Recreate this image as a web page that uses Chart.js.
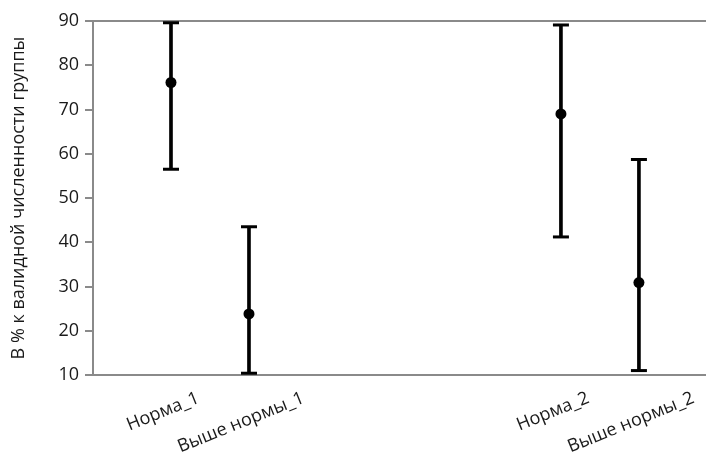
<!DOCTYPE html>
<html>
<head>
<meta charset="utf-8">
<script src="https://cdn.jsdelivr.net/npm/chart.js@4"></script>
<style>
    html, body { margin: 0; padding: 0; background: #fff; }
    #wrap { width: 706px; height: 458px; }
</style>
</head>
<body>
<div id="wrap"><canvas id="chart"></canvas></div>
<script>
// Groups and their positions on the x axis (gap between the two pairs)
const categories = ["Норма_1", "Выше нормы_1", "Норма_2", "Выше нормы_2"];
const positions = [1, 2, 6, 7];

// Mean and interval bounds, % of the valid group size
const means = [76.1, 23.8, 69.0, 30.9];
const lower = [56.5, 10.4, 41.2, 11.0];
const upper = [89.6, 43.5, 89.1, 58.7];

const yTicks = [10, 20, 30, 40, 50, 60, 70, 80, 90];

const axisGray = '#8a8a8a';
const textColor = '#1a1a1a';
const fontFamily = '"Open Sans", "Noto Sans", sans-serif';

// Draws the rotated category labels centred under each position
const categoryLabels = {
    id: 'categoryLabels',
    afterDraw(chart) {
        const ctx = chart.ctx;
        const xs = chart.scales.x;
        const angle = -22 * Math.PI / 180;
        ctx.save();
        ctx.font = '18px ' + fontFamily;
        ctx.fillStyle = textColor;
        ctx.textAlign = 'center';
        ctx.textBaseline = 'middle';
        categories.forEach((label, i) => {
            const w = ctx.measureText(label).width;
            const cx = xs.getPixelForValue(positions[i]) - 8;
            const cy = 389 + (w / 2) * Math.sin(-angle) + 9 * Math.cos(angle);
            ctx.save();
            ctx.translate(cx, cy);
            ctx.rotate(angle);
            ctx.fillText(label, 0, 0);
            ctx.restore();
        });
        ctx.restore();
    }
};

const ranges = positions.map((x, i) => ({ x: x, y: [lower[i], upper[i]] }));
const caps = [];
positions.forEach((x, i) => {
    caps.push({ x: x, y: lower[i] });
    caps.push({ x: x, y: upper[i] });
});
const centers = positions.map((x, i) => ({ x: x, y: means[i] }));

new Chart(document.getElementById('chart'), {
    type: 'bar',
    data: {
        datasets: [
            {
                type: 'scatter',
                data: centers,
                pointStyle: 'circle',
                pointRadius: 5.5,
                backgroundColor: '#000',
                borderColor: '#000',
                borderWidth: 0
            },
            {
                type: 'scatter',
                data: caps,
                pointStyle: 'line',
                pointRadius: 8,
                borderColor: '#000',
                borderWidth: 3
            },
            {
                type: 'bar',
                data: ranges,
                barThickness: 3,
                backgroundColor: '#000',
                borderWidth: 0
            }
        ]
    },
    options: {
        responsive: true,
        maintainAspectRatio: false,
        animation: false,
        layout: { autoPadding: false, padding: { top: 21, right: 0, left: 0, bottom: 0 } },
        plugins: {
            legend: { display: false },
            tooltip: { enabled: false }
        },
        scales: {
            x: {
                type: 'linear',
                offset: false,
                min: 0,
                max: 7.86,
                ticks: { display: false },
                grid: { display: false },
                border: { display: true, color: axisGray, width: 2 },
                afterFit(scale) { scale.height = 83; }
            },
            y: {
                min: 10,
                max: 90,
                afterBuildTicks(scale) {
                    scale.ticks = yTicks.map(v => ({ value: v }));
                },
                ticks: {
                    color: textColor,
                    padding: 6,
                    font: { family: fontFamily, size: 18 }
                },
                grid: {
                    lineWidth: 2,
                    tickLength: 8,
                    tickColor: axisGray,
                    color: ctx => (ctx.tick && ctx.tick.value === 90) ? axisGray : 'rgba(0,0,0,0)'
                },
                border: { display: true, color: axisGray, width: 2 },
                title: {
                    display: true,
                    text: 'В % к валидной численности группы',
                    color: textColor,
                    padding: { top: 8, bottom: 0 },
                    font: { family: fontFamily, size: 18 }
                },
                afterFit(scale) { scale.width = 93; }
            }
        }
    },
    plugins: [categoryLabels]
});
</script>
</body>
</html>
